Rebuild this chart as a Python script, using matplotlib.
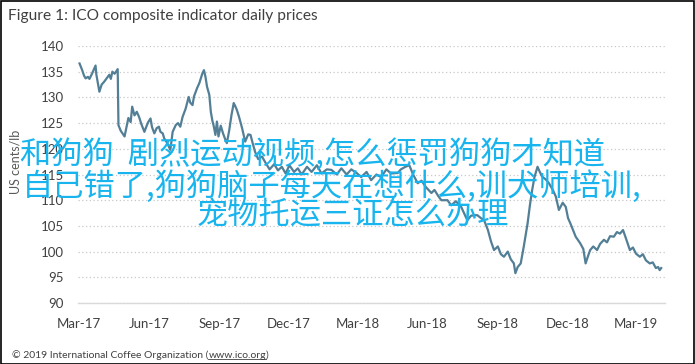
import matplotlib
matplotlib.use("Agg")
import matplotlib.pyplot as plt
import matplotlib.dates as mdates
from matplotlib.patches import Rectangle
import pandas as pd

# ---------------- data ----------------
start_date = "2017-03-01"
day_offsets = [1, 4, 7, 9, 12, 14, 17, 20, 22, 23, 27, 30, 33, 37, 40, 42, 44, 47, 51, 52,
               55, 60, 63, 65, 68, 70, 73, 76, 79, 82, 86, 89, 91, 94, 96, 99, 102, 105, 107, 110,
               112, 116, 120, 123, 127, 130, 133, 136, 140, 144, 146, 149, 151, 155, 158, 162, 164, 166, 168, 171,
               173, 175, 177, 179, 181, 183, 186, 189, 192, 194, 197, 200, 203, 205, 207, 210, 214, 218, 222, 225,
               228, 231, 235, 240, 245, 250, 256, 261, 266, 271, 276, 282, 287, 292, 299, 305, 312, 318, 325, 331,
               338, 344, 351, 357, 364, 370, 377, 383, 390, 396, 403, 409, 418, 422, 428, 433, 438, 444, 449, 455,
               462, 466, 471, 475, 483, 488, 494, 501, 509, 514, 522, 527, 531, 536, 540, 544, 549, 553, 557, 562,
               566, 570, 572, 575, 579, 583, 588, 591, 594, 597, 601, 604, 607, 612, 616, 621, 625, 629, 634, 638,
               641, 644, 651, 657, 661, 664, 668, 670, 674, 679, 683, 688, 692, 696, 701, 705, 709, 713, 717, 722,
               726, 730, 735, 739, 743, 748, 752, 756, 759, 761, 763]
prices = [136.6, 135.5, 134.2, 133.7, 134.0, 133.6, 134.5, 135.5, 136.2, 134.5, 131.1, 132.5, 133.0, 133.8, 134.4, 133.6, 135.0, 134.6, 135.5, 124.6,
          123.5, 122.4, 124.5, 126.0, 125.2, 128.2, 126.5, 127.2, 126.2, 124.8, 123.3, 124.5, 125.2, 125.9, 124.2, 123.0, 124.0, 124.3, 123.3, 123.0,
          122.0, 121.1, 119.8, 123.3, 124.6, 125.0, 124.3, 126.2, 127.8, 130.1, 129.0, 128.5, 130.2, 131.8, 132.8, 134.7, 135.3, 134.0, 132.1, 130.5,
          127.2, 125.5, 124.3, 122.7, 125.3, 122.4, 124.5, 123.0, 121.8, 121.1, 123.5, 126.5, 128.9, 128.3, 127.6, 126.2, 124.0, 121.4, 122.8, 122.7,
          121.0, 119.4, 118.0, 118.5, 117.2, 116.0, 117.0, 115.8, 116.5, 115.2, 116.8, 115.5, 116.2, 115.0, 116.5, 115.5, 116.8, 115.2, 116.0, 115.9,
          115.0, 116.2, 115.0, 116.0, 115.3, 114.5, 115.5, 113.9, 115.0, 114.5, 116.0, 115.2, 115.3, 116.0, 116.5, 116.8, 115.0, 113.3, 113.8, 112.5,
          111.4, 112.0, 110.8, 110.0, 110.0, 109.0, 109.8, 108.7, 106.1, 107.0, 107.1, 106.5, 106.1, 104.2, 102.0, 100.3, 101.0, 99.5, 99.0, 100.0,
          98.5, 97.7, 95.8, 97.0, 97.7, 101.0, 105.5, 109.0, 112.0, 114.5, 116.5, 115.5, 114.6, 114.0, 113.3, 112.0, 110.7, 108.1, 109.5, 108.7,
          106.5, 105.5, 102.9, 101.6, 100.5, 97.7, 99.5, 100.3, 101.0, 100.3, 101.5, 102.3, 101.8, 103.0, 102.9, 103.8, 103.5, 104.2, 102.5, 100.3,
          100.8, 99.6, 99.0, 99.5, 98.3, 97.7, 97.9, 96.8, 97.0, 96.4, 96.8]

y_ticks = [90, 95, 100, 105, 110, 115, 120, 125, 130, 135, 140]
x_tick_dates = ["2017-03-01", "2017-06-01", "2017-09-01", "2017-12-01", "2018-03-01",
                "2018-06-01", "2018-09-01", "2018-12-01", "2019-03-01"]
x_tick_labels = ["Mar-17", "Jun-17", "Sep-17", "Dec-17", "Mar-18",
                 "Jun-18", "Sep-18", "Dec-18", "Mar-19"]

title_text = "Figure 1: ICO composite indicator daily prices"
y_label = "US cents/lb"
footer_main = "\u00a9 2019 International Coffee Organization ("
footer_link = "www.ico.org"
footer_end = ")"
overlay_lines = ["和狗狗  剧烈运动视频,怎么惩罚狗狗才知道",
                 "自己错了,狗狗脑子每天在想什么,训犬师培训,",
                 "宠物托运三证怎么办理"]

# ---------------- figure ----------------
W, H = 695, 364
fig = plt.figure(figsize=(W / 100, H / 100), dpi=100)
fig.patch.set_facecolor("white")

ax = fig.add_axes([78 / W, 1 - 303 / H, (665 - 78) / W, (303 - 46) / H])
dates = pd.to_datetime(start_date) + pd.to_timedelta(day_offsets, unit="D")
ax.plot(dates, prices, color="#527f96", lw=1.6, solid_joinstyle="round")

x0 = pd.to_datetime(start_date) - pd.Timedelta(days=1)
x1 = pd.to_datetime(start_date) + pd.Timedelta(days=768)
ax.set_xlim(x0, x1)
ax.set_ylim(90, 140)
ax.set_yticks(y_ticks)
ax.set_xticks(pd.to_datetime(x_tick_dates))
ax.set_xticklabels(x_tick_labels)

for s in ["top", "right", "left"]:
    ax.spines[s].set_visible(False)
ax.spines["bottom"].set_color("#d9d9d9")
ax.spines["bottom"].set_linewidth(1.0)
ax.grid(axis="y", color="#c8c8c8", linestyle=(0, (1, 2)), linewidth=0.9)
ax.set_axisbelow(True)
ax.tick_params(axis="both", length=0, labelsize=9.5, colors="#404040", labelcolor="#404040")
ax.tick_params(axis="y", pad=10)
ax.tick_params(axis="x", pad=11)
for lab in ax.get_xticklabels() + ax.get_yticklabels():
    lab.set_fontfamily("Lato")

fig.text(15 / W, 1 - 162 / H, y_label, rotation=90, ha="center", va="center",
         fontsize=9, color="#595959", family="Lato")

fig.text(8 / W, 1 - 16 / H, title_text, ha="left", va="center",
         fontsize=11.2, color="#404040", family="Lato")

# footer with underlined link
fsize = 7.5
t1 = fig.text(12 / W, 1 - 355 / H, footer_main, ha="left", va="center",
              fontsize=fsize, color="#404040", family="Lato")
fig.canvas.draw()
r = fig.canvas.get_renderer()
bb1 = t1.get_window_extent(r)
t2 = fig.text(bb1.x1 / W, 1 - 355 / H, footer_link, ha="left", va="center",
              fontsize=fsize, color="#404040", family="Lato")
fig.canvas.draw()
bb2 = t2.get_window_extent(r)
fig.text(bb2.x1 / W, 1 - 355 / H, footer_end, ha="left", va="center",
         fontsize=fsize, color="#404040", family="Lato")
fig.add_artist(plt.Line2D([bb2.x0 / W, bb2.x1 / W], [(bb2.y0 + 1) / H, (bb2.y0 + 1) / H],
                          color="#404040", lw=0.6, transform=fig.transFigure))

# overlay text
cjk = ["Noto Sans CJK SC", "DejaVu Sans"]
fig.text(20 / W, 1 - 155 / H, overlay_lines[0], ha="left", va="center",
         fontsize=22.5, color="#18b4ee", family=cjk)
fig.text(22 / W, 1 - 187 / H, overlay_lines[1], ha="left", va="center",
         fontsize=22.5, color="#18b4ee", family=cjk)
fig.text(197 / W, 1 - 215 / H, overlay_lines[2], ha="left", va="center",
         fontsize=22.5, color="#18b4ee", family=cjk)

# border
fig.add_artist(Rectangle((0.5 / W, 0.5 / H), 1 - 1.5 / W, 1 - 1.5 / H, transform=fig.transFigure,
                         fill=False, edgecolor="black", lw=1.2))

fig.savefig("out.png", dpi=100)
